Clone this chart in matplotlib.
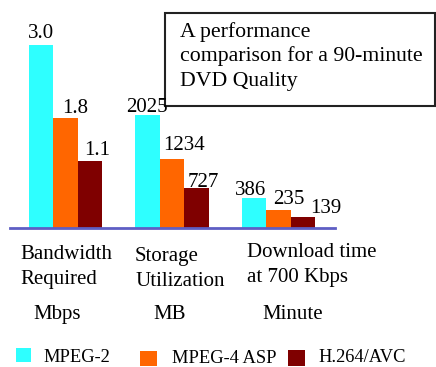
import matplotlib.pyplot as plt
from matplotlib.patches import Rectangle
from matplotlib.lines import Line2D
from matplotlib.transforms import Affine2D

# codec comparison for a 90-minute DVD quality clip
categories = ["Bandwidth\nRequired", "Storage\nUtilization", "Download time\nat 700 Kbps"]
units = ["Mbps", "MB", "Minute"]
codecs = ["MPEG-2", "MPEG-4 ASP", "H.264/AVC"]
mpeg2 = [3.0, 2025, 386]
mpeg4_asp = [1.8, 1234, 235]
h264 = [1.1, 727, 139]
value_fmt = ["{:.1f}", "{:d}", "{:d}"]

colors = ["#2EFFFF", "#FF6600", "#7F0000"]
series = [mpeg2, mpeg4_asp, h264]

W, H = 436, 367
plt.rcParams['font.family'] = ['Liberation Serif', 'DejaVu Serif']
fig = plt.figure(figsize=(W / 100, H / 100), dpi=100)
fig.patch.set_facecolor("white")

# pixel coordinates measured from the top-left corner
px = Affine2D().scale(1 / W, -1 / H).translate(0, 1) + fig.transFigure

base_y = 228
ax_rect = [0, (H - base_y) / H, 1, base_y / H]
group_top = [3.74, 4100, 2900]  # each group has its own vertical scale
width = 0.23
xlim = (-0.617, 3.477)

# (dx, dy) nudges for the value labels, per series then per group
label_nudge = [
    [(0, 7), (-1, 3), (-4, 3)],
    [(9, 5), (12, 9), (10, 6)],
    [(7, 6), (7, 1), (23, 4)],
]

for g in range(len(categories)):
    ax = fig.add_axes(ax_rect, label="group%d" % g)
    ax.set_xlim(*xlim)
    ax.set_ylim(0, group_top[g])
    ax.axis("off")
    for s, vals in enumerate(series):
        x = g + (s - 1) * width
        ax.bar(x, vals[g], width, color=colors[s], linewidth=0)
        dx, dy = label_nudge[s][g]
        ax.annotate(value_fmt[g].format(vals[g]), (x, vals[g]),
                    xytext=(dx, dy), textcoords="offset pixels",
                    ha="center", va="baseline", fontsize=15)

# baseline under the bars
fig.add_artist(Line2D([10, 335], [base_y, base_y], transform=px,
                      color="#5E5EC4", lw=2))

# title box
fig.add_artist(Rectangle((165, 13), 270, 93, transform=px, facecolor="none",
                         edgecolor="#222222", lw=1.5, zorder=0))
box_lines = ["A performance", "comparison for a 90-minute", "DVD Quality"]
for k, line in enumerate(box_lines):
    fig.text(180, 37 + k * 24.5, line, transform=px, fontsize=15.7,
             va="baseline", ha="left")

# category captions and units
cat_x = [20, 135, 247]
first_base = [259, 261, 257]
unit_x = [57, 170, 293]
for g, cat in enumerate(categories):
    for k, line in enumerate(cat.split("\n")):
        fig.text(cat_x[g], first_base[g] + k * 25, line, transform=px,
                 fontsize=15, va="baseline", ha="left")
    fig.text(unit_x[g], 319, units[g], transform=px, fontsize=15,
             va="baseline", ha="center")

# legend along the bottom edge
leg_box = [(16, 348, 15, 14), (140, 351, 17, 15), (288, 350, 17, 16)]
leg_text = [(43, 362), (172, 363), (318, 362)]
for s, name in enumerate(codecs):
    x0, y0, w, h = leg_box[s]
    fig.add_artist(Rectangle((x0, y0), w, h, transform=px,
                             facecolor=colors[s], edgecolor="none"))
    fig.text(leg_text[s][0], leg_text[s][1], name, transform=px,
             fontsize=13.3, va="baseline", ha="left")

fig.savefig("out.png", dpi=100, facecolor="white")
